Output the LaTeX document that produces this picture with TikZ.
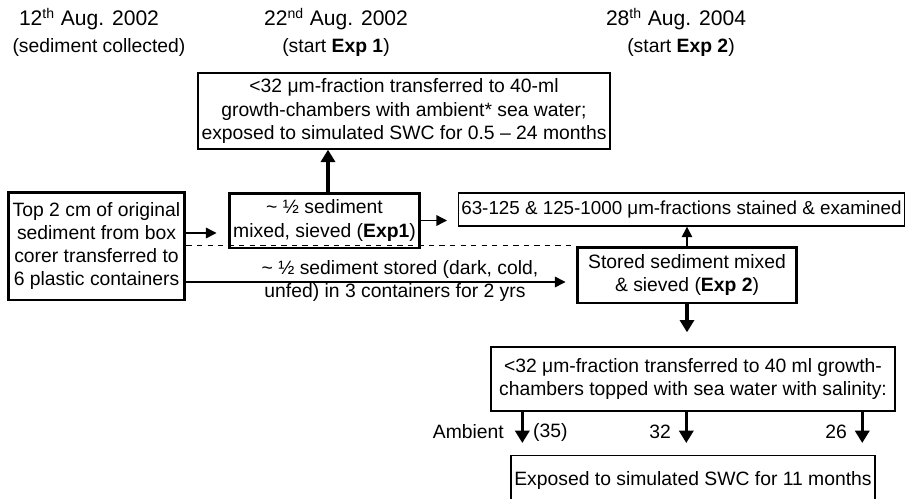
\documentclass[tikz,border=0pt]{standalone}
\usepackage{fontspec}
\setmainfont{Liberation Sans}
\usetikzlibrary{arrows.meta,positioning}

\tikzset{
  thinbox/.style={draw,line width=0.8pt,align=center,inner sep=2pt,font=\fontsize{11}{13.2}\selectfont},
  thickbox/.style={thinbox,line width=1.7pt},
  lbl/.style={font=\fontsize{11}{13.2}\selectfont},
  datelbl/.style={font=\fontsize{12}{14}\selectfont},
  thinarr/.style={-{Triangle[length=6pt,width=6pt]},line width=0.8pt},
  fatarr/.style={-{Triangle[length=7pt,width=8pt]},line width=1.8pt},
}

\begin{document}
\begin{tikzpicture}[x=0.02cm,y=-0.02cm]
 \clip (0,0) rectangle (907,498);
 % dates
 \node[datelbl] (d1) at (89,19) {12\textsuperscript{th} Aug. 2002};
 \node[lbl] (s1) at (99,47) {(sediment collected)};
 \node[datelbl] (d2) at (336,19) {22\textsuperscript{nd} Aug. 2002};
 \node[lbl] (s2) at (336,47) {(start \textbf{Exp 1})};
 \node[datelbl] (d3) at (676,19) {28\textsuperscript{th} Aug. 2004};
 \node[lbl] (s3) at (681,47) {(start \textbf{Exp 2})};
 % boxes
 \node[thinbox,minimum width=7.96cm,minimum height=1.52cm] (chamb1) at (404,111)
   {<32 μm-fraction transferred to 40-ml\\growth-chambers with ambient* sea water;\\exposed to simulated SWC for 0.5 -- 24 months};
 \node[thickbox,minimum width=3.54cm,minimum height=2.16cm] (topcm) at (96.5,246)
   {Top 2 cm of original\\sediment from box\\corer transferred to\\6 plastic containers};
 \node[thickbox,minimum width=3.82cm,minimum height=1.1cm] (half) at (324.5,220.5)
   {\textasciitilde{} ½ sediment\\mixed, sieved (\textbf{Exp1})};
 \node[thinbox,anchor=west,minimum height=0.66cm,inner xsep=1.5pt,font=\fontsize{10.7}{13}\selectfont] (stain) at (458,209.5)
   {63-125 \& 125-1000 μm-fractions stained \& examined};
 \node[thickbox,minimum width=4.4cm,minimum height=1.12cm] (stored) at (687,275)
   {Stored sediment mixed\\\& sieved (\textbf{Exp 2})};
 \node[thinbox,minimum width=8.08cm,minimum height=1.28cm] (chamb2) at (693,379)
   {<32 μm-fraction transferred to 40 ml growth-\\chambers topped with sea water with salinity:};
 \node[thinbox,anchor=north,minimum width=7.2cm,minimum height=1cm] (expo) at (693,455)
   {Exposed to simulated SWC for 11 months};
 % connectors
 \coordinate (a1) at ([yshift=0.26cm]topcm.east);
 \draw[thinarr,shorten >=0.22cm] (a1) -- (a1 -| half.west);
 \draw[thinarr,shorten >=0.22cm] (half.east) -- (half.east -| stain.west);
 \draw[fatarr] ([xshift=0.07cm]half.north) -- ([xshift=0.07cm]half.north |- chamb1.south);
 \draw[dashed,line width=0.8pt] (topcm.east |- stored.north west) -- (stored.north west);
 \coordinate (a2) at ([yshift=-0.72cm]topcm.east);
 \draw[thinarr,shorten >=0.2cm] (a2) -- (a2 -| stored.west);
 \node[lbl] (st1) at (400,269) {\textasciitilde{} ½ sediment stored (dark, cold,};
 \node[lbl] (st2) at (395,292) {unfed) in 3 containers for 2 yrs};
 \draw[thinarr] (stored.north) -- (stored.north |- stain.south);
 \draw[fatarr,shorten >=0.28cm] (stored.south) -- (stored.south |- chamb2.north);
 \foreach \dx/\nm in {0.64/sal1,3.92/sal2,7.44/sal3}{
   \coordinate (\nm) at ([xshift=\dx cm]chamb2.south west);
   \draw[fatarr,shorten >=0.24cm] (\nm) -- (\nm |- expo.north);
 }
 \node[lbl,anchor=east] (amb) at (510,432) {Ambient};
 \node[lbl,anchor=west] (v35) at (527,432) {(35)};
 \node[lbl,anchor=east] (v32) at (677,432) {32};
 \node[lbl,anchor=east] (v26) at (853,432) {26};
\end{tikzpicture}
\end{document}
